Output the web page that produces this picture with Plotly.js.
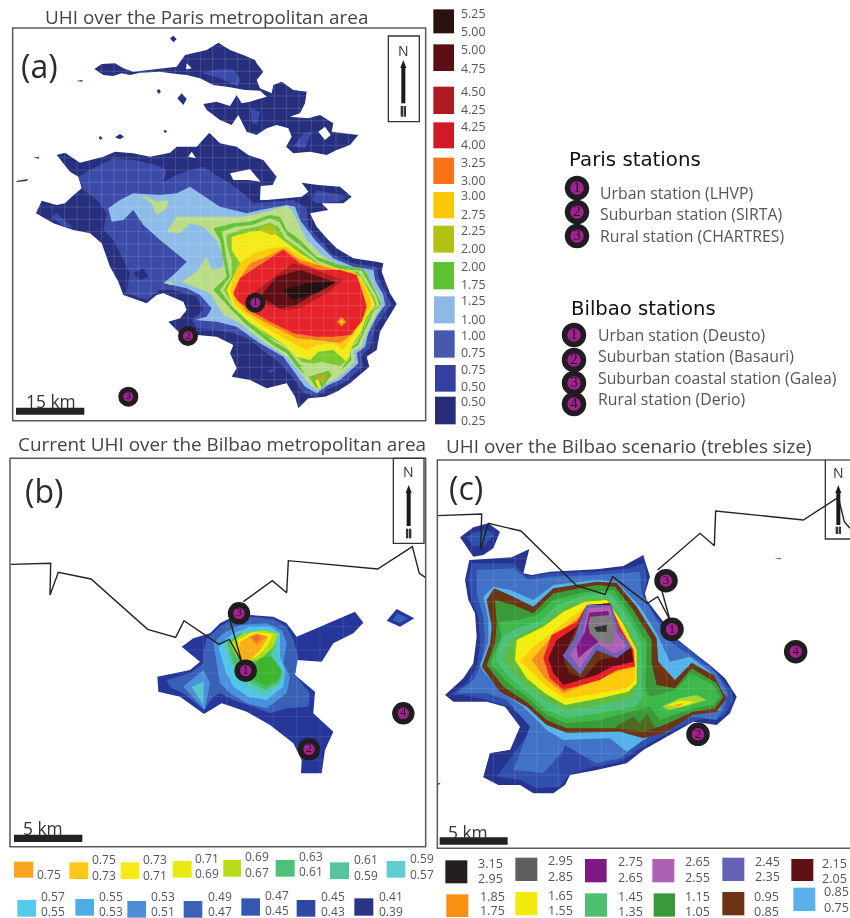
<!DOCTYPE html>
<html><head><meta charset="utf-8">
<script src="https://cdn.plot.ly/plotly-3.0.1.min.js"></script>
<style>html,body{margin:0;padding:0;background:#fff}#plot{width:850px;height:918px;filter:blur(0.4px)}</style>
</head><body><div id="plot"></div>
<script>
// ---------- Panel (a): Paris, contour outlines ----------
const parisNorth=[[283,207],[305,192],[345,190],[370,205],[400,215],[470,207],[530,200],[555,165],[585,158],[620,150],[655,128],[690,150],[730,165],[765,180],[770,190],[790,215],[770,240],[780,265],[815,280],[820,255],[845,245],[880,270],[920,275],[915,310],[900,340],[870,350],[925,355],[960,345],[1000,370],[995,395],[1075,405],[1050,435],[1010,450],[980,465],[930,455],[880,460],[858,440],[875,410],[865,385],[830,375],[800,385],[770,405],[740,395],[715,345],[695,375],[660,360],[620,330],[610,312],[650,305],[690,318],[710,285],[725,310],[750,305],[800,290],[780,272],[735,270],[690,262],[640,255],[600,235],[560,225],[530,222],[480,215],[420,218],[390,225],[365,220],[340,228],[310,225]];
const parisBody=[[108,640],[125,602],[170,615],[195,610],[215,590],[245,565],[235,530],[210,515],[170,465],[195,458],[240,488],[270,480],[310,470],[345,455],[400,460],[450,470],[510,458],[530,440],[590,440],[628,398],[660,430],[710,440],[745,465],[790,480],[830,530],[818,555],[782,558],[780,600],[800,600],[905,590],[925,575],[905,548],[955,555],[1020,560],[1055,590],[1030,610],[965,610],[985,630],[930,640],[950,680],[985,720],[1010,745],[1060,775],[1130,785],[1150,790],[1145,815],[1170,880],[1190,912],[1170,945],[1140,995],[1130,1050],[1100,1070],[1108,1100],[1075,1130],[1050,1150],[1010,1175],[975,1190],[925,1195],[895,1225],[885,1190],[860,1150],[800,1165],[750,1140],[695,1130],[710,1105],[690,1060],[700,1035],[650,1010],[590,1005],[560,1020],[505,965],[540,955],[560,930],[550,905],[490,880],[470,885],[440,910],[370,885],[355,845],[330,800],[305,730],[270,700],[220,690],[160,670]];
const parisIslands=[
 [[510,115],[520,107],[530,118],[520,127]],[[532,295],[545,280],[560,297],[550,315]],[[470,272],[477,267],[483,275],[476,282]],
 [[345,412],[360,402],[372,410],[360,418]],[[228,243],[248,240],[246,245]],[[296,412],[302,408],[308,416],[300,419]],
 [[48,543],[85,537],[80,543],[52,546]],[[100,472],[118,470],[116,476]],[[490,393],[496,389],[501,395],[495,399]]];
const parisHoles=[
 [[560,190],[575,205],[558,208]],[[955,395],[975,380],[992,405],[975,420]],[[565,470],[575,455],[588,475]],
 [[690,520],[750,508],[782,545],[745,540],[700,540]]];
const parisNorthInner=[
 [[605,220],[650,208],[700,208],[722,240],[710,258],[660,235]],[[750,325],[780,335],[770,375],[755,365]],[[880,440],[910,400],[935,395],[915,445]],
 [[155,650],[170,640],[220,685],[190,680]],[[800,1112],[830,1105],[815,1120]]];
const parisMidBlue=[[235,530],[270,510],[340,475],[400,480],[470,495],[500,510],[490,545],[540,520],[610,500],[640,520],[690,550],[730,580],[760,610],[830,605],[880,600],[920,625],[925,680],[960,720],[1000,765],[1060,790],[1130,800],[1135,830],[1160,885],[1175,912],[1150,945],[1125,985],[1110,1045],[1085,1065],[1090,1100],[1060,1125],[1030,1150],[990,1165],[950,1190],[910,1180],[880,1135],[835,1085],[800,1060],[750,1020],[700,1000],[650,990],[590,985],[575,960],[610,930],[590,890],[520,870],[480,870],[440,900],[380,880],[390,820],[370,780],[340,720],[310,690],[320,640],[290,600],[250,570]];
const parisMidPatch=[[950,570],[1040,590],[1020,605],[950,610],[935,600]];
const parisDeepPatch=[[400,820],[430,805],[445,830],[420,840]];
const parisLightBlue=[[325,625],[360,600],[400,580],[480,585],[530,580],[570,560],[615,590],[660,620],[740,640],[780,630],[860,615],[885,620],[900,660],[945,720],[1000,775],[1060,800],[1120,810],[1125,840],[1150,885],[1155,915],[1130,950],[1105,1000],[1095,1040],[1070,1060],[1075,1090],[1040,1120],[1020,1140],[985,1155],[950,1180],[915,1160],[880,1110],[850,1070],[780,1030],[710,980],[650,965],[585,960],[620,950],[635,925],[600,885],[560,865],[490,850],[520,825],[560,785],[530,760],[480,720],[430,675],[400,630],[370,660],[335,665]];
const parisPale=[[500,695],[530,650],[590,650],[660,650],[720,650],[780,640],[860,618],[875,630],[885,650],[920,720],[970,770],[1030,800],[1100,815],[1110,840],[1140,890],[1145,915],[1125,950],[1100,1000],[1085,1040],[1060,1055],[1065,1085],[1035,1115],[1010,1135],[980,1150],[950,1170],[925,1150],[895,1110],[860,1070],[790,1025],[720,970],[670,945],[630,880],[545,845],[590,815],[620,770],[635,810],[670,800],[670,770],[650,720],[610,680],[570,670],[540,700]];
const parisPalePatches=[[[425,590],[440,590],[470,605],[505,600],[500,625],[470,645],[455,610]],[[495,845],[525,850],[510,855]]];
const parisGreen=[[640,685],[700,670],[750,665],[810,645],[840,650],[860,690],[900,720],[950,770],[1020,795],[1085,805],[1100,820],[1135,890],[1145,912],[1120,935],[1095,990],[1075,1035],[1050,1050],[1055,1080],[1030,1105],[1000,1120],[970,1140],[950,1165],[925,1135],[890,1100],[860,1060],[810,1030],[740,975],[690,925],[640,870],[680,830],[670,780],[660,720]];
const parisPaleRing=[[665,695],[705,680],[755,675],[810,655],[838,665],[860,705],[905,740],[955,782],[1020,808],[1085,812],[1098,835],[1130,890],[1138,915],[1115,935],[1092,985],[1070,1030],[1048,1045],[1050,1072],[1030,1098],[1000,1110],[960,1110],[900,1095],[865,1050],[815,1020],[745,965],[695,918],[660,870],[690,830],[680,780],[672,725]];
const parisGreenRing=[[680,705],[720,690],[770,680],[810,668],[835,680],[855,715],[905,750],[955,790],[1020,812],[1075,815],[1090,838],[1122,890],[1130,915],[1108,945],[1085,995],[1065,1030],[1045,1040],[1045,1078],[1020,1098],[960,1095],[905,1085],[870,1045],[805,1010],[745,960],[700,915],[670,870],[695,830],[695,780],[680,735]];
const parisYellow=[[695,710],[750,695],[810,690],[850,720],[900,760],[950,790],[1000,810],[1060,815],[1085,835],[1115,890],[1125,915],[1100,950],[1080,1000],[1060,1030],[1040,1085],[1000,1050],[955,1055],[930,1080],[890,1070],[860,1040],[800,1000],[740,960],[700,920],[680,870],[700,830],[720,790],[695,750]];
const parisOlive=[[775,690],[810,672],[835,700],[815,705]];
const parisGold=[[720,790],[760,760],[810,745],[860,740],[920,780],[990,800],[1060,815],[1085,840],[1110,890],[1115,915],[1090,960],[1060,1005],[1030,1050],[1000,1030],[950,1035],[920,1050],[880,1030],[800,985],[750,950],[705,915],[690,870],[700,830]];
const parisOrange=[[750,790],[800,770],[850,745],[900,780],[990,805],[1060,820],[1080,850],[1100,915],[1060,1000],[1020,1030],[950,1020],[890,1015],[800,970],[740,935],[700,885],[710,850]];
const parisRed=[[700,880],[720,835],[770,800],[850,750],[900,790],[960,810],[1020,810],[1070,825],[1085,870],[1100,920],[1085,965],[1050,1005],[1000,1010],[950,1010],[880,1000],[800,960],[750,930],[710,900]];
const parisRedOrange=[[1010,965],[1025,950],[1040,965],[1025,980]];
const parisRedYellow=[[1018,965],[1025,958],[1032,965],[1025,972]];
const parisDarkRed=[[760,880],[830,825],[880,790],[960,815],[1030,840],[980,880],[900,925],[850,930],[800,915]];
const parisMaroon=[[780,890],[830,830],[900,810],[1000,845],[950,875],[890,915],[840,925]];
const parisCore=[[850,870],[920,850],[1010,845],[950,880],[880,900]];
const parisBlobPale=[[900,1100],[965,1085],[1030,1100],[1010,1125],[975,1145],[950,1165],[925,1140]];
const parisBlobGreen=[[925,1130],[985,1112],[995,1125],[965,1165],[950,1165]];
const parisBlobOlive=[[942,1125],[985,1120],[968,1150],[950,1145]];
const parisBlobYellow=[[945,1142],[955,1140],[965,1165],[955,1165]];

// ---------- Panel (b): Bilbao current ----------
const bilbaoOuter=[[545,650],[580,625],[630,610],[660,580],[690,565],[750,555],[820,560],[860,580],[890,620],[960,590],[1065,545],[1090,578],[1060,610],[1000,640],[965,695],[890,690],[885,735],[945,785],[940,850],[1000,905],[975,960],[965,1030],[903,1030],[905,990],[880,940],[810,885],[740,845],[665,820],[612,852],[540,800],[475,785],[472,740],[570,720],[600,695]];
const bilbaoIsland=[[1160,572],[1190,537],[1243,565],[1200,590]];
const bilbaoIslandInner=[[1178,570],[1192,550],[1225,565],[1200,580]];
const bilbaoBlue=[[620,625],[660,590],[700,565],[760,560],[820,568],[860,590],[880,630],[895,680],[885,735],[930,790],[925,830],[860,835],[810,850],[760,830],[700,810],[660,790],[640,800],[612,840],[550,790],[510,772],[500,750],[570,730],[610,700],[610,665]];
const bilbaoMid=[[640,640],[670,610],[720,585],[800,580],[845,600],[860,640],[850,700],[870,740],[860,790],[800,835],[740,820],[690,790],[660,760],[650,700]];
const bilbaoMidLeft=[[550,770],[610,720],[630,760],[615,840]];
const bilbaoCyan=[[655,650],[700,610],[750,590],[810,590],[840,610],[840,680],[855,720],[850,770],[800,810],[745,800],[700,770],[675,720]];
const bilbaoCyanLeft=[[575,770],[610,755],[610,825]];
const bilbaoTeal=[[670,640],[710,615],[770,600],[825,610],[835,660],[830,690],[845,730],[835,770],[795,795],[750,775],[720,750],[690,700]];
const bilbaoSea=[[680,640],[720,610],[780,605],[825,615],[825,650],[810,680],[850,730],[835,760],[795,780],[755,760],[720,740],[700,700]];
const bilbaoGreen=[[790,680],[815,680],[845,720],[835,750],[795,770],[760,745],[740,740],[770,695]];
const bilbaoLime=[[690,640],[730,610],[790,600],[835,612],[820,650],[790,680],[770,690],[740,700],[710,680],[695,650]];
const bilbaoYellow=[[715,630],[760,605],[820,612],[800,650],[770,680],[735,695],[715,670]];
const bilbaoGold=[[720,635],[770,610],[805,620],[780,660],[750,690],[725,690],[715,670]];
const bilbaoOrange=[[745,620],[770,612],[800,620],[770,645]];
const bilbaoPeak=[[755,622],[770,615],[785,622],[770,635]];
const bilbaoCoast=[[32,403],[152,400],[150,495],[175,427],[273,447],[443,598],[527,622],[552,572],[657,643],[688,628],[725,695],[690,570]];
const bilbaoCoastEast=[[730,515],[817,452],[860,488],[865,392],[1133,417],[1237,350],[1258,430],[1277,443]];

// ---------- Panel (c): Bilbao scenario ----------
const scenBlob=[[90,322],[130,292],[175,280],[210,305],[190,355],[160,375],[130,380]];
const scenBlobInner=[[110,322],[135,305],[175,300],[192,315],[165,345],[130,350]];
const scenNavy=[[105,450],[118,390],[245,382],[298,357],[280,430],[305,435],[360,425],[500,418],[580,408],[640,375],[660,440],[645,490],[650,510],[700,575],[730,625],[790,670],[840,705],[885,745],[920,800],[900,850],[860,885],[790,875],[720,915],[640,960],[590,1000],[500,1020],[420,1035],[405,1065],[370,1090],[310,1090],[270,1065],[205,1065],[160,1042],[180,970],[240,960],[270,890],[225,830],[170,815],[70,815],[45,795],[100,745],[130,700],[140,620],[135,550],[115,510]];
const scenRoyal=[[125,400],[250,400],[290,440],[360,430],[500,425],[600,415],[640,400],[650,450],[640,500],[680,560],[720,610],[790,665],[850,715],[905,785],[910,810],[880,860],[800,870],[720,905],[640,950],[570,995],[500,1010],[430,1000],[390,1070],[320,1075],[270,1050],[200,1040],[260,960],[310,890],[240,830],[170,810],[100,795],[60,795],[110,760],[140,710],[150,640],[145,560],[125,510],[115,450]];
const scenBlue=[[140,420],[250,415],[295,450],[360,440],[500,435],[630,425],[635,490],[680,570],[725,640],[790,680],[860,730],[895,790],[880,840],[860,870],[790,860],[710,890],[640,930],[570,985],[500,1000],[410,950],[340,1030],[250,1020],[300,890],[230,810],[170,790],[80,790],[130,750],[155,700],[165,630],[160,560],[140,490]];
const scenNavyPatchLeft=[[160,1042],[180,970],[240,960],[262,945],[205,1035]];
const scenNavyPatchRight=[[405,945],[470,985],[490,1012],[420,1032],[395,1060],[385,1000]];
const scenSky=[[160,500],[190,470],[240,480],[310,510],[370,465],[500,450],[560,455],[630,530],[680,610],[720,695],[780,680],[840,725],[885,790],[870,840],[810,850],[730,880],[640,930],[590,965],[540,925],[400,930],[350,900],[280,830],[220,790],[160,725],[150,705],[175,640],[175,570]];
const scenBrown=[[170,510],[192,475],[250,500],[310,530],[370,475],[500,455],[560,458],[620,530],[680,625],[685,695],[735,750],[785,698],[850,735],[890,805],[860,845],[790,855],[700,910],[640,925],[570,905],[410,908],[350,885],[290,830],[210,785],[155,710],[180,640],[185,590]];
const scenForest=[[195,510],[250,525],[310,550],[370,490],[500,465],[555,470],[610,540],[665,630],[665,700],[680,765],[735,775],[785,715],[860,760],[880,800],[855,835],[790,845],[690,890],[640,900],[570,895],[410,895],[350,870],[295,820],[220,770],[170,705],[195,640],[200,580]];
const scenOlive=[[555,890],[610,860],[630,880],[650,850],[675,895],[640,905],[570,897]];
const scenGreen=[[205,575],[260,570],[320,555],[370,510],[470,485],[550,480],[600,550],[650,640],[645,780],[660,800],[735,780],[785,730],[850,765],[870,800],[850,825],[790,835],[690,870],[660,830],[620,840],[510,870],[410,880],[350,855],[295,805],[230,755],[180,700],[215,620]];
const scenSea=[[215,620],[270,590],[330,575],[380,525],[470,495],[540,490],[590,555],[635,640],[635,770],[640,800],[615,830],[510,850],[410,865],[350,840],[295,790],[240,745],[195,690]];
const scenMint=[[240,630],[330,585],[390,535],[465,505],[530,500],[580,565],[625,650],[625,770],[600,805],[510,825],[405,840],[345,810],[290,770],[245,725],[220,685]];
const scenYellow=[[260,630],[340,590],[400,545],[465,515],[530,510],[575,575],[620,660],[620,760],[595,785],[510,805],[405,825],[345,790],[290,745],[255,690]];
const scenGold=[[270,695],[310,650],[350,620],[420,565],[470,530],[530,520],[570,580],[615,660],[615,750],[590,775],[510,790],[405,805],[350,770],[300,720]];
const scenOrange=[[305,690],[350,640],[365,620],[450,560],[600,680],[600,710],[510,745],[400,790],[345,745]];
const scenRed=[[340,685],[365,615],[440,575],[470,525],[540,520],[570,590],[610,660],[615,710],[560,720],[510,750],[400,780],[360,745]];
const scenMaroon=[[355,685],[380,630],[440,590],[475,525],[540,520],[565,600],[605,660],[610,695],[545,710],[500,735],[400,765],[370,730]];
const scenDeepBrown=[[400,690],[420,635],[470,530],[540,525],[565,610],[600,650],[560,680],[510,690],[460,745],[420,730]];
const scenPeriwinkle=[[398,677],[430,630],[470,525],[545,525],[565,600],[605,650],[560,685],[500,660],[450,735]];
const scenOrchid=[[420,675],[455,620],[475,535],[540,530],[555,600],[590,650],[555,672],[500,640],[450,715]];
const scenPurple=[[440,648],[465,605],[478,548],[535,543],[545,600],[500,640],[470,662],[445,685]];
const scenGrey=[[480,560],[540,555],[555,590],[550,645],[505,635],[480,610],[475,585]];
const scenDark=[[492,592],[530,585],[530,605],[500,605]];
const scenTailLime=[[695,830],[750,805],[800,795],[830,810],[780,825],[720,840]];
const scenTailYellow=[[710,826],[750,812],[795,815],[750,832]];
const scenTailGold=[[730,825],[760,820],[750,830]];
const scenSpecks=[[[1033,386],[1055,383],[1050,388]],[[22,1058],[32,1060],[24,1066]]];
const scenCoast=[[22,257],[155,252],[152,358],[175,280],[273,303],[440,467],[525,493],[548,440],[652,520],[683,500],[720,570],[695,480]];
const scenCoastEast=[[683,420],[810,310],[853,347],[857,243],[1120,270],[1225,202],[1243,275],[1260,295]];

// ---------- Mesh line positions ----------
const parisMeshX=[120,157,194,231,268,305,342,379,416,453,490,527,564,601,638,675,712,749,786,823,860,897,934,971,1008,1045,1082,1119,1156];
const parisMeshY=[140,177,214,251,288,325,362,399,436,473,510,547,584,621,658,695,732,769,806,843,880,917,954,991,1028,1065,1102,1139,1176,1213];
const bilbaoMeshX=[610,680,750,820,890,960,1030];
const bilbaoMeshY=[590,660,730,800,860,920,990];
const scenMeshX=[125,190,255,320,385,450,515,580,645,710,775,840,905];
const scenMeshY=[320,385,450,515,580,645,710,775,840,905,970,1035];

// ---------- Stations ----------
const parisStationX=[766,564,385], parisStationY=[908,1008,1190], parisStationN=['1','2','3'];
const bilbaoStationX=[737,927,717,1210], bilbaoStationY=[722,958,550,850], bilbaoStationN=['1','2','3','4'];
const scenStationX=[726,804,708,1097], scenStationY=[598,913,452,665], scenStationN=['1','2','3','4'];

// ---------- Legends ----------
const parisLegendHigh=['5.25','5.00','4.50','4.25','3.25','3.00','2.25','2.00','1.25','1.00','0.75','0.50'];
const parisLegendLow=['5.00','4.75','4.25','4.00','3.00','2.75','2.00','1.75','1.00','0.75','0.50','0.25'];
const parisLegendColors=['#2a1210','#5a0f14','#ad1a22','#cf1b27','#f97316','#fdc808','#b2c215','#5fc232','#8db9e6','#4659ad','#3340a2','#262c78'];
const parisLegendTop=[28,133,260,367,473,576,677,786,889,991,1095,1190];
const parisLegendBottom=[100,213,342,445,552,655,758,868,970,1073,1175,1273];
const parisLegendHighY=[41,148,274,380,487,587,690,799,902,1005,1108,1204];
const parisLegendLowY=[94,204,327,433,540,642,745,852,958,1058,1160,1261];

const currentHigh=['','0.75','0.73','0.71','0.69','0.63','0.61','0.59','0.57','0.55','0.53','0.49','0.47','0.45','0.41'];
const currentLow=['0.75','0.73','0.71','0.69','0.67','0.61','0.59','0.57','0.55','0.53','0.51','0.47','0.45','0.43','0.39'];
const currentColors=['#fba51f','#fdc816','#f7ea16','#eaea12','#b5dc16','#4dc07a','#56c5a0','#5fcdd0','#55cbec','#4fabe6','#4d8ed6','#3a63b8','#3458b0','#2e48a4','#2a3585'];
const currentLeft=[42,208,362,518,670,827,990,1160,52,226,382,551,724,890,1063];
const currentRight=[100,265,418,575,723,884,1047,1216,108,282,438,607,780,946,1120];
const currentTop=[50,52,52,48,45,45,52,48,165,162,168,168,160,165,160];
const currentBottom=[98,102,102,98,95,95,102,98,215,212,218,218,212,215,212];
const currentTextX=[147,313,465,622,772,932,1097,1265,160,333,490,660,832,998,1172];
const currentHighY=[0,44,44,40,34,34,44,40,155,154,155,155,150,155,154];
const currentLowY=[88,90,90,86,83,80,90,87,198,198,198,198,197,198,198];

const scenHigh=['3.15','2.95','2.75','2.65','2.45','2.15','1.85','1.65','1.45','1.15','0.95','0.85'];
const scenLow=['2.95','2.85','2.65','2.55','2.35','2.05','1.75','1.55','1.35','1.05','0.85','0.75'];
const scenColors=['#231f20','#5e5f61','#7f1a85','#ae61b3','#6562b6','#5e1215','#f99014','#f2ec0c','#4dbf70','#3a9a3a','#6b3515','#5ab0e8'];
const scenLeft=[46,256,465,667,877,1084,49,256,465,671,877,1090];
const scenRight=[112,322,530,733,943,1150,115,322,531,735,943,1156];
const scenTop=[46,38,42,42,38,42,148,141,145,145,141,128];
const scenBottom=[115,108,112,112,108,108,216,211,215,215,211,198];
const scenTextX=[180,390,600,803,1013,1212,186,392,600,803,1010,1218];
const scenHighY=[54,47,50,50,50,54,155,150,153,153,153,140];
const scenLowY=[100,93,96,96,93,100,197,197,198,198,198,187];

const parisStationNames=['Urban station (LHVP)','Suburban station (SIRTA)','Rural station (CHARTRES)'];
const bilbaoStationNames=['Urban station (Deusto)','Suburban station (Basauri)','Suburban coastal station (Galea)','Rural station (Derio)'];
const titles=['UHI over the Paris metropolitan area','Current UHI over the Bilbao metropolitan area','UHI over the Bilbao scenario (trebles size)'];

// ---------- Build ----------
const SANS='"Open Sans", "Noto Sans", sans-serif';
const traces=[];
function poly(ax,pts,color){
  traces.push({type:'scatter',mode:'lines',x:pts.map(p=>p[0]),y:pts.map(p=>p[1]),xaxis:ax[0],yaxis:ax[1],
    fill:'toself',fillcolor:color,line:{width:0,color:color},hoverinfo:'skip',showlegend:false});
}
function path(ax,pts,w,color){
  traces.push({type:'scatter',mode:'lines',x:pts.map(p=>p[0]),y:pts.map(p=>p[1]),xaxis:ax[0],yaxis:ax[1],
    line:{width:w,color:color,simplify:false},hoverinfo:'skip',showlegend:false});
}
function mesh(ax,xs,ys,x0,x1,y0,y1,col){
  const X=[],Y=[];
  xs.forEach(v=>{X.push(v,v,null);Y.push(y0,y1,null);});
  ys.forEach(v=>{X.push(x0,x1,null);Y.push(v,v,null);});
  traces.push({type:'scatter',mode:'lines',x:X,y:Y,xaxis:ax[0],yaxis:ax[1],line:{width:0.7,color:col},hoverinfo:'skip',showlegend:false});
}
function stations(ax,xs,ys,ns,size,lw,fs){
  traces.push({type:'scatter',mode:'markers+text',x:xs,y:ys,text:ns,xaxis:ax[0],yaxis:ax[1],textposition:'middle center',
    textfont:{family:'"Liberation Serif", serif',size:fs,color:'#1d1420'},
    marker:{size:size,color:'#a3228f',line:{color:'#211c20',width:lw}},hoverinfo:'skip',showlegend:false,cliponaxis:false});
}
const A=['x','y'],B=['x2','y2'],C=['x3','y3'],P=['x4','y4'];

const navy='#27307f';
[[parisNorth,navy],[parisBody,navy]].forEach(d=>poly(A,d[0],d[1]));
parisIslands.forEach(p=>poly(A,p,navy));
parisNorthInner.forEach(p=>poly(A,p,'#3a4bab'));
parisHoles.forEach(p=>poly(A,p,'#ffffff'));
[[parisMidBlue,'#3c4ba8'],[parisMidPatch,'#3c4ba8'],[parisDeepPatch,navy],[parisLightBlue,'#8ebce8'],[parisPale,'#bbdc86'],
 [parisPalePatches[0],'#bbdc86'],[parisPalePatches[1],'#bbdc86'],[parisGreen,'#63c233'],[parisPaleRing,'#bbdc86'],[parisGreenRing,'#7cc832'],
 [parisYellow,'#f3ea18'],[parisOlive,'#b3c116'],[parisGold,'#fdc90a'],[parisOrange,'#f6821f'],[parisRed,'#e6232a'],
 [parisRedOrange,'#f6821f'],[parisRedYellow,'#fdd00a'],[parisDarkRed,'#b01c23'],[parisMaroon,'#5e0f14'],[parisCore,'#241010'],
 [parisBlobPale,'#bbdc86'],[parisBlobGreen,'#63c233'],[parisBlobOlive,'#a8b020'],[parisBlobYellow,'#f3ea18']
].forEach(d=>poly(A,d[0],d[1]));
mesh(A,parisMeshX,parisMeshY,100,1190,130,1230,'rgba(255,255,255,0.2)');
stations(A,parisStationX,parisStationY,parisStationN,15,5,11);

[[bilbaoOuter,'#26369a'],[bilbaoIsland,'#26369a'],[bilbaoIslandInner,'#3a60b5'],[bilbaoBlue,'#3a60b5'],[bilbaoMid,'#4a90dc'],[bilbaoMidLeft,'#4a90dc'],
 [bilbaoCyan,'#50c5e8'],[bilbaoCyanLeft,'#55c8c8'],[bilbaoTeal,'#55c8b0'],[bilbaoSea,'#4bbe6a'],[bilbaoGreen,'#3db52e'],[bilbaoLime,'#b5dc10'],
 [bilbaoYellow,'#f0ec10'],[bilbaoGold,'#fbae17'],[bilbaoOrange,'#f58a20'],[bilbaoPeak,'#f06a30']
].forEach(d=>poly(B,d[0],d[1]));
mesh(B,bilbaoMeshX,bilbaoMeshY,470,1090,540,1030,'rgba(255,255,255,0.14)');
path(B,bilbaoCoast,1.4,'#222222');
path(B,bilbaoCoastEast,1.4,'#222222');
stations(B,bilbaoStationX,bilbaoStationY,bilbaoStationN,17,5.5,12);

[[scenBlob,'#26348f'],[scenBlobInner,'#3050ae'],[scenNavy,'#26348f'],[scenRoyal,'#3050ae'],[scenBlue,'#4272c6'],[scenNavyPatchLeft,'#26348f'],[scenNavyPatchRight,'#2f46a6'],[scenSky,'#55b2ea'],[scenBrown,'#6b3515'],
 [scenForest,'#3a9a3a'],[scenOlive,'#4f6a1e'],[scenGreen,'#3db84a'],[scenSea,'#4dc07a'],[scenMint,'#5ebd3e'],[scenYellow,'#f2ee10'],[scenGold,'#fdc90a'],
 [scenOrange,'#f58a1f'],[scenRed,'#e8202a'],[scenMaroon,'#5e0f14'],[scenDeepBrown,'#6b3515'],[scenPeriwinkle,'#6a62ba'],[scenOrchid,'#b060b5'],
 [scenPurple,'#7d1a85'],[scenGrey,'#7c7c7e'],[scenDark,'#303030'],[scenTailLime,'#a8d830'],[scenTailYellow,'#f2ee10'],[scenTailGold,'#f9a51a'],
 [scenSpecks[0],'#3050ae'],[scenSpecks[1],'#3050ae']
].forEach(d=>poly(C,d[0],d[1]));
mesh(C,scenMeshX,scenMeshY,45,920,280,1090,'rgba(255,255,255,0.16)');
path(C,scenCoast,1.4,'#222222');
path(C,scenCoastEast,1.4,'#222222');
stations(C,scenStationX,scenStationY,scenStationN,18,5.5,13);

// station legend markers (page pixel axis)
stations(P,[577,577,577],[188,212,236],parisStationN,19,5.5,15);
stations(P,[574,574,574,574],[335,360,383,404],bilbaoStationN,19,5.5,15);

const shapes=[],ann=[];
function rect(ax,x0,y0,x1,y1,o){shapes.push(Object.assign({type:'rect',xref:ax[0],yref:ax[1],x0,y0,x1,y1,layer:'above'},o));}
function text(ax,x,y,t,size,color,anchor,family){ann.push({xref:ax[0],yref:ax[1],x,y,text:t,showarrow:false,xanchor:anchor||'center',yanchor:'middle',
  font:{size,color:color||'#444',family:family||SANS}});}
const frame={line:{color:'#5a5a5a',width:1.5},fillcolor:'rgba(0,0,0,0)'};
rect(A,38,84,1277,1262,frame);
rect(B,30,85,1277,1250,frame);
rect(C,22,90,1300,1255,frame);
const nbox={line:{color:'#333',width:1.3},fillcolor:'#ffffff'};
function north(ax,bx0,by0,bx1,by1,cx,ny,tip,end,f0,f1){
  if(ax===C){shapes.push({type:'path',xref:ax[0],yref:ax[1],path:`M ${bx0} ${by0} L ${bx0} ${by1} L ${bx1} ${by1}`,line:{color:'#333',width:1.3},layer:'above'});}
  else rect(ax,bx0,by0,bx1,by1,nbox);
  text(ax,cx,ny,'N',14,'#333');
  shapes.push({type:'path',xref:ax[0],yref:ax[1],path:`M ${cx} ${tip} L ${cx+9} ${tip+24} L ${cx-9} ${tip+24} Z`,fillcolor:'#1a1a1a',line:{width:0},layer:'above'});
  rect(ax,cx-6,tip+22,cx+6,end,{fillcolor:'#1a1a1a',line:{width:0}});
  rect(ax,cx-8,f0,cx-1,f1,{fillcolor:'#333',line:{width:0}});
  rect(ax,cx+1,f0,cx+8,f1,{fillcolor:'#333',line:{width:0}});
}
north(A,1165,108,1258,365,1210,150,180,310,318,350);
north(B,1180,85,1272,340,1226,125,165,288,296,325);
north(C,1186,90,1262,327,1225,127,165,285,290,312);
text(A,118,197,'(a)',32,'#2b2b2b');
text(B,133,182,'(b)',32,'#2b2b2b');
text(C,108,172,'(c)',32,'#2b2b2b');
rect(A,48,1223,253,1244,{fillcolor:'#222',line:{width:0}});
rect(B,42,1214,247,1236,{fillcolor:'#222',line:{width:0}});
rect(C,29,1222,233,1244,{fillcolor:'#222',line:{width:0}});
text(A,153,1202,'15 km',17.4,'#333');
text(B,128,1195,'5 km',17.4,'#333');
text(C,113,1205,'5 km',17.4,'#333');

text(P,206,17,titles[0],18.9,'#444');
text(P,222,444,titles[1],18.9,'#444');
text(P,629,446,titles[2],18.9,'#444');
text(P,635,159,'Paris stations',19.8,'#111','center','"DejaVu Sans", sans-serif');
text(P,643.5,308,'Bilbao stations',19.6,'#111','center','"DejaVu Sans", sans-serif');
[193,214,236].forEach((y,i)=>text(P,598,y,parisStationNames[i],15.8,'#555','left'));
[335,356,378,399].forEach((y,i)=>text(P,596,y,bilbaoStationNames[i],15.8,'#555','left'));

// legends: coordinates are in 3x crop units of the region they sit in
function swatch(ox,oy,x0,x1,y0,y1,c){shapes.push({type:'rect',xref:'x4',yref:'y4',x0:ox+x0/3,x1:ox+x1/3,y0:oy+y0/3,y1:oy+y1/3,fillcolor:c,line:{width:0},layer:'above'});}
parisLegendColors.forEach((c,i)=>{
  const x0=[0,1,2,3,4,5,6,7].includes(i)?10:(i<10?12:15);
  swatch(430,0,x0,x0+62,parisLegendTop[i],parisLegendBottom[i],c);
  text(P,430+130/3,parisLegendHighY[i]/3,parisLegendHigh[i],12.4,'#555');
  text(P,430+130/3,parisLegendLowY[i]/3,parisLegendLow[i],12.4,'#555');
});
currentColors.forEach((c,i)=>{
  swatch(0,845,currentLeft[i],currentRight[i],currentTop[i],currentBottom[i],c);
  if(currentHigh[i]) text(P,currentTextX[i]/3,845+currentHighY[i]/3,currentHigh[i],12,'#555');
  text(P,currentTextX[i]/3,845+currentLowY[i]/3,currentLow[i],12,'#555');
});
scenColors.forEach((c,i)=>{
  swatch(430,845,scenLeft[i],scenRight[i],scenTop[i],scenBottom[i],c);
  text(P,430+scenTextX[i]/3,845+scenHighY[i]/3,scenHigh[i],12.6,'#555');
  text(P,430+scenTextX[i]/3,845+scenLowY[i]/3,scenLow[i],12.6,'#555');
});

const ax=(dom,rng,anchor)=>({domain:dom,range:rng,visible:false,fixedrange:true,anchor:anchor});
const layout={width:850,height:918,margin:{l:0,r:0,t:0,b:0},paper_bgcolor:'#fff',plot_bgcolor:'rgba(0,0,0,0)',showlegend:false,
  xaxis:ax([0,430/850],[0,1290],'y'),yaxis:ax([1-430/918,1],[1290,0],'x'),
  xaxis2:ax([0,430/850],[0,1290],'y2'),yaxis2:ax([1-850/918,1-430/918],[1260,0],'x2'),
  xaxis3:ax([430/850,1],[0,1260],'y3'),yaxis3:ax([1-850/918,1-430/918],[1260,0],'x3'),
  xaxis4:ax([0,1],[0,850],'y4'),yaxis4:ax([0,1],[918,0],'x4'),
  shapes:shapes,annotations:ann};
Plotly.newPlot('plot',traces,layout,{displayModeBar:false,staticPlot:true});
</script></body></html>
